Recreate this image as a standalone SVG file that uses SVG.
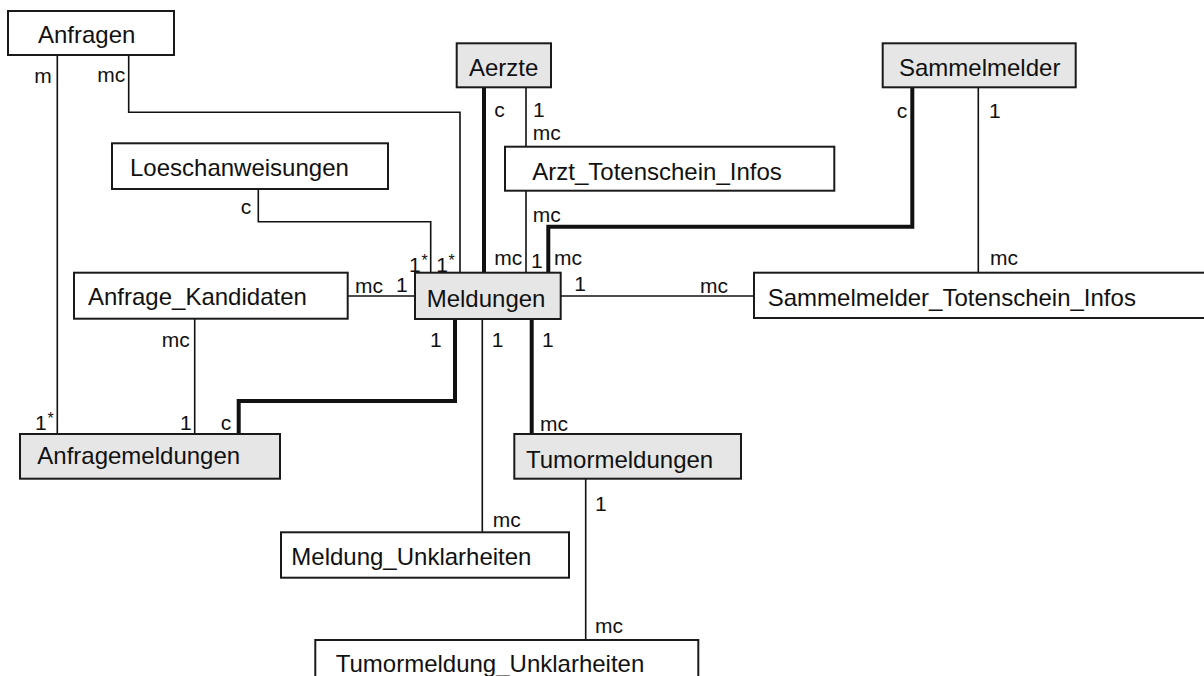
<svg xmlns="http://www.w3.org/2000/svg" width="1204" height="676" viewBox="0 0 1204 676">
<style>
.box{fill:#ffffff;stroke:#1a1a1a;stroke-width:2}
.gray{fill:#e6e6e6;stroke:#1a1a1a;stroke-width:2}
.nt{font-family:"Liberation Sans",Arial,sans-serif;font-size:24px;fill:#111}
.lb{font-family:"Liberation Sans",Arial,sans-serif;font-size:21px;fill:#111}
.st{font-family:"Liberation Sans",Arial,sans-serif;font-size:16px;fill:#111}
.thin{fill:none;stroke:#111;stroke-width:1.6}
.thick{fill:none;stroke:#111;stroke-width:4}
</style>
<rect width="1204" height="676" fill="#ffffff"/>
<g id="connectors">
<path class="thin" d="M57.3,55 V434"/>
<path class="thin" d="M128.7,55 V112.3 H460 V272.7"/>
<path class="thin" d="M258.3,189 V221.7 H430.7 V272.7"/>
<path class="thick" d="M484,87.3 V272.7"/>
<path class="thin" d="M526,87.3 V146.7"/>
<path class="thin" d="M526,190.7 V272.7"/>
<path class="thick" d="M912.3,87.3 V226.7 H548.3 V272.7"/>
<path class="thin" d="M978.3,87.3 V272.7"/>
<path class="thin" d="M347.7,296 H415"/>
<path class="thin" d="M560.7,296 H754"/>
<path class="thin" d="M194.7,318.7 V434"/>
<path class="thick" d="M455,319 V401 H238.7 V434"/>
<path class="thin" d="M482.3,319 V532.3"/>
<path class="thick" d="M531.7,319 V434"/>
<path class="thin" d="M585.7,478.7 V640"/>
<g class="lb">
<text x="34.3" y="82.7">m</text>
<text x="97.3" y="82">mc</text>
<text x="240.7" y="214">c</text>
<text x="409" y="272">1</text>
<text x="436.3" y="272">1</text>
<text x="494.3" y="117.3">c</text>
<text x="533" y="117">1</text>
<text x="532.7" y="140">mc</text>
<text x="532.7" y="221.7">mc</text>
<text x="494.3" y="265.3">mc</text>
<text x="531" y="268">1</text>
<text x="554" y="265">mc</text>
<text x="896.7" y="118">c</text>
<text x="989" y="118">1</text>
<text x="990" y="265">mc</text>
<text x="355" y="293.3">mc</text>
<text x="396" y="291.7">1</text>
<text x="574.3" y="291">1</text>
<text x="700" y="293">mc</text>
<text x="430" y="346.7">1</text>
<text x="491.7" y="346.7">1</text>
<text x="542" y="346.7">1</text>
<text x="161.7" y="346.7">mc</text>
<text x="35" y="430">1</text>
<text x="180" y="430">1</text>
<text x="220.7" y="430">c</text>
<text x="540" y="431">mc</text>
<text x="595" y="510.7">1</text>
<text x="492.7" y="526.7">mc</text>
<text x="595" y="633.3">mc</text>
</g>
<g class="st">
<text x="421.5" y="266">*</text>
<text x="448.5" y="266">*</text>
<text x="47.5" y="424">*</text>
</g>
</g>
<g id="n-anfragen"><rect class="box" x="8" y="11" width="166" height="44"/><text class="nt" x="38" y="43.3">Anfragen</text></g>
<g id="n-aerzte"><rect class="gray" x="456.7" y="43.3" width="94.3" height="44"/><text class="nt" x="469" y="76">Aerzte</text></g>
<g id="n-sammelmelder"><rect class="gray" x="882.7" y="43.3" width="193" height="44"/><text class="nt" x="899" y="75.7">Sammelmelder</text></g>
<g id="n-loeschanweisungen"><rect class="box" x="112" y="143.3" width="276" height="45.7"/><text class="nt" x="130" y="176">Loeschanweisungen</text></g>
<g id="n-arzt-totenschein"><rect class="box" x="505" y="146.7" width="329.3" height="44"/><text class="nt" x="532.3" y="180">Arzt_Totenschein_Infos</text></g>
<g id="n-anfrage-kandidaten"><rect class="box" x="74" y="272.7" width="273.7" height="46"/><text class="nt" x="88" y="305">Anfrage_Kandidaten</text></g>
<g id="n-meldungen"><rect class="gray" x="415" y="272.7" width="145.7" height="46.3"/><text class="nt" x="426.7" y="307">Meldungen</text></g>
<g id="n-sammelmelder-totenschein"><rect class="box" x="754" y="272.7" width="452" height="45.3"/><text class="nt" x="767.7" y="306">Sammelmelder_Totenschein_Infos</text></g>
<g id="n-anfragemeldungen"><rect class="gray" x="20" y="434" width="260" height="44.7"/><text class="nt" x="37.3" y="464">Anfragemeldungen</text></g>
<g id="n-tumormeldungen"><rect class="gray" x="514.3" y="434" width="226.7" height="44.7"/><text class="nt" x="526" y="468">Tumormeldungen</text></g>
<g id="n-meldung-unklarheiten"><rect class="box" x="281" y="532.3" width="288" height="45.4"/><text class="nt" x="291.3" y="565">Meldung_Unklarheiten</text></g>
<g id="n-tumormeldung-unklarheiten"><rect class="box" x="315.3" y="640" width="383" height="50"/><text class="nt" x="335.7" y="672">Tumormeldung_Unklarheiten</text></g>
</svg>
